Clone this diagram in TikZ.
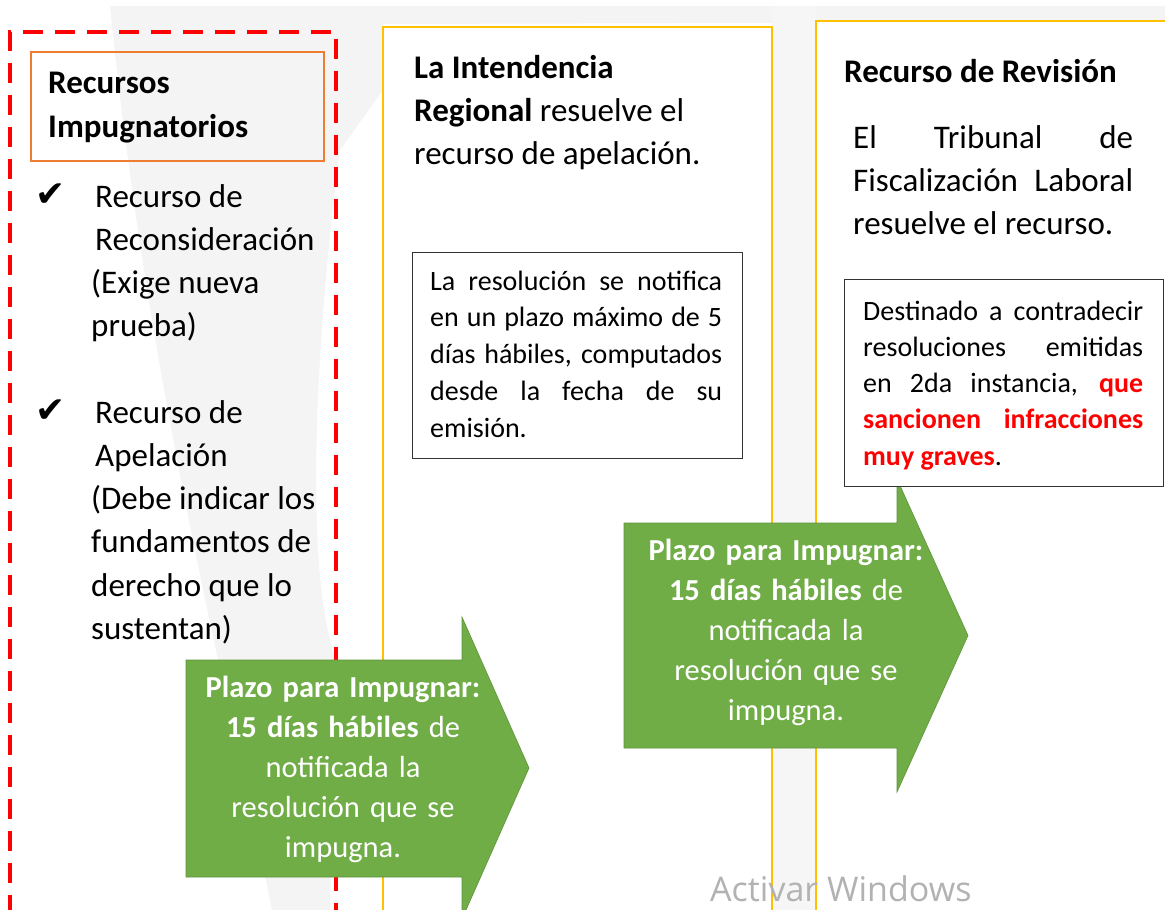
\documentclass[tikz,border=0pt]{standalone}
\usepackage{fontspec}
\setmainfont{Carlito}
\newfontfamily\symfont{DejaVu Sans}
\newfontfamily\winfont{Open Sans}
\definecolor{gold}{HTML}{FFC000}
\definecolor{orng}{HTML}{ED7D31}
\definecolor{grn}{HTML}{70AD47}
\definecolor{wm}{HTML}{F4F4F4}
\definecolor{wmlight}{HTML}{F6F6F6}
\definecolor{redd}{HTML}{FF0000}
\tikzset{
  body/.style={inner sep=0pt, anchor=base west, align=left, font=\fontsize{33}{43.3}\selectfont},
  boxtext/.style={inner sep=0pt, anchor=base west, align=justify, text width=#1, font=\fontsize{28}{36.8}\selectfont},
  frame/.style={draw=black!80, line width=1.4pt, fill=white, anchor=north west, inner sep=0pt},
  column/.style={draw=gold, line width=1.6pt, fill=white},
  greenarrow/.style={fill=grn, draw=grn!85!black, line width=0.6pt},
  arrowtext/.style={inner sep=0pt, anchor=base, align=center, text width=330pt, text=white, font=\fontsize{30.5}{40}\selectfont},
  check/.style={inner sep=0pt, anchor=base west, font=\symfont\fontsize{36}{36}\selectfont}
}
\begin{document}
\begin{tikzpicture}[x=1pt,y=-1pt]
\useasboundingbox (0,0) rectangle (1165,910);
\clip (0,0) rectangle (1165,910);
\fill[white] (0,0) rectangle (1165,910);
% faint watermark
\fill[wm] (110,6) -- (1165,6) -- (1165,22) -- (383,24) -- (383,90) -- (340,150)
  .. controls (320,300) and (300,560) .. (336,660) -- (330,910) -- (272,910)
  .. controls (230,700) and (150,400) .. (110,6) -- cycle;
\fill[wmlight] (772,6) rectangle (816,910);
% columns
\draw[column] (383,920) -- (383,27) -- (772,27) -- (772,920);
\draw[column] (816,920) -- (816,21) -- (1175,21) -- (1175,920);
% red dashed frame
\draw[redd, line width=3.5pt, dash pattern=on 20pt off 12pt] (10,915) -- (10,32) -- (336,32) -- (336,915);
% heading box column 1
\node[draw=orng, line width=1.5pt, anchor=north west, minimum width=293pt, minimum height=109pt, inner sep=0pt] (hbox) at (30,51) {};
\node[body, font=\bfseries\fontsize{33}{44}\selectfont] (head1) at (48,137) {Recursos\\Impugnatorios};
% list
\node[check] (chk1) at (35,206) {✔};
\node[body] (item1) at (91,336.9) {\hspace*{4pt}Recurso de\\\hspace*{4pt}Reconsideración\\(Exige nueva\\prueba)};
\node[check] (chk2) at (35,422) {✔};
\node[body] (item2) at (91,639.5) {\hspace*{4pt}Recurso de\\\hspace*{4pt}Apelación\\(Debe indicar los\\fundamentos de\\derecho que lo\\sustentan)};
% column 2
\node[body] (head2) at (414,164.6) {\textbf{La Intendencia}\\\textbf{Regional} resuelve el\\recurso de apelación.};
% column 3 heading
\node[body] (head3) at (844,82) {\textbf{Recurso de Revisión}};
\node[body, align=justify, text width=280pt] (text3) at (853,148) {El Tribunal de\linebreak Fiscalización Laboral\linebreak resuelve el recurso.};
% arrows
\fill[greenarrow] (186,660) -- (462,660) -- (462,617) -- (529,768) -- (462,919) -- (462,877) -- (186,877) -- cycle;
\node[arrowtext] (arr1) at (343,697) {\textbf{Plazo para Impugnar:}\\\textbf{15 días hábiles} de\\notificada la\\resolución que se\\impugna.};
\fill[greenarrow] (624,523) -- (897,523) -- (897,479) -- (968,635.5) -- (897,792) -- (897,748) -- (624,748) -- cycle;
\node[arrowtext] (arr2) at (786,560) {\textbf{Plazo para Impugnar:}\\\textbf{15 días hábiles} de\\notificada la\\resolución que se\\impugna.};
% boxes
\node[frame, minimum width=330pt, minimum height=206pt] (box2) at (412,252) {};
\node[boxtext=292pt] (text2) at (430,290) {La resolución se notifica\linebreak en un plazo máximo de 5\linebreak días hábiles, computados\linebreak desde la fecha de su\linebreak emisión.};
\node[frame, minimum width=319pt, minimum height=207pt] (box3) at (844,279) {};
\node[boxtext=280pt, font=\fontsize{28}{36.3}\selectfont] (text4) at (863,320) {Destinado a contradecir\linebreak resoluciones emitidas\linebreak en 2da instancia, \textcolor{redd}{\textbf{que}}\linebreak \textcolor{redd}{\textbf{sancionen infracciones}}\linebreak \textcolor{redd}{\textbf{muy graves}}.};
% watermark text
\node[inner sep=0pt, anchor=base west, text=black!30, font=\winfont\fontsize{34}{34}\selectfont] (win) at (710,901) {Activar Windows};
\end{tikzpicture}
\end{document}
